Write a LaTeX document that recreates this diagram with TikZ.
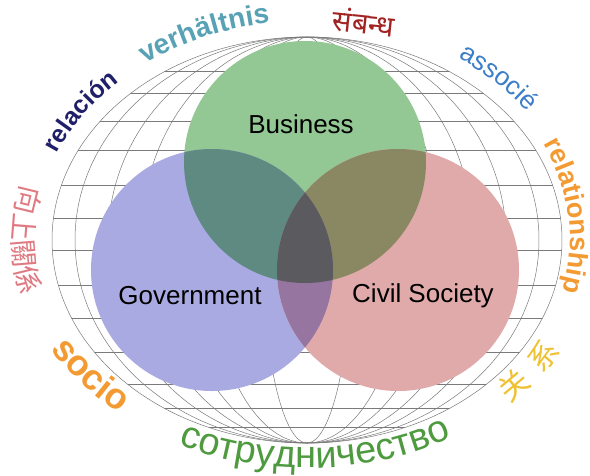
\documentclass[tikz,border=0pt]{standalone}
\usepackage{fontspec}
\setmainfont{Liberation Sans}
\newfontfamily\devafont[Script=Devanagari]{Noto Sans}
\newfontfamily\tcfont{Noto Sans CJK TC}
\newfontfamily\scfont{Noto Sans CJK SC}
\usetikzlibrary{decorations.text}
\definecolor{bizgreen}{HTML}{93C793}
\definecolor{govblue}{HTML}{AAAAE2}
\definecolor{civpink}{HTML}{E0AAAA}
\definecolor{bizgov}{HTML}{5F8A82}
\definecolor{bizciv}{HTML}{898862}
\definecolor{govciv}{HTML}{9675A0}
\definecolor{allthree}{HTML}{5B5A5E}
\definecolor{gridgray}{HTML}{7A7A7A}
\definecolor{navyword}{HTML}{20206A}
\definecolor{tealword}{HTML}{58A2B6}
\definecolor{hindired}{HTML}{A32222}
\definecolor{frblue}{HTML}{3A7DC8}
\definecolor{orangeword}{HTML}{F39A32}
\definecolor{zhyellow}{HTML}{EEC232}
\definecolor{zhpink}{HTML}{E07A82}
\definecolor{rugreen}{HTML}{4E9A3E}
\tikzset{
  gridline/.style={draw=gridgray, line width=0.5pt},
  circlabel/.style={font=\fontsize{26}{30}\selectfont, text=black, inner sep=0pt},
  ringword/.style={decorate, decoration={text along path, text align=center, text={#1}}},
}

\begin{document}
\begin{tikzpicture}[x=1pt, y=1pt]
  \path[use as bounding box, fill=white] (0,0) rectangle (590,-475);
  \coordinate (globe) at (307,-240);
  \coordinate (bizc) at (305,-162);
  \coordinate (govc) at (212,-270);
  \coordinate (civc) at (398,-270);
  % globe grid
  \begin{scope}
    \clip (globe) ellipse[x radius=255, y radius=203];
    \foreach \yy in {71,93,121,150,185,218,250,285,318,352,384,408,427}
      \draw[gridline] (45,-\yy) -- (570,-\yy);
  \end{scope}
  \foreach \rx in {255,232,199,166,133,100,45}
    \draw[gridline] (globe) ellipse[x radius=\rx, y radius=203];
  % three circles
  \fill[bizgreen] (bizc) circle[radius=121];
  \fill[govblue] (govc) circle[radius=121];
  \fill[civpink] (civc) circle[radius=121];
  \begin{scope}
    \clip (bizc) circle[radius=121];
    \fill[bizgov] (govc) circle[radius=121];
    \fill[bizciv] (civc) circle[radius=121];
  \end{scope}
  \begin{scope}
    \clip (govc) circle[radius=121];
    \fill[govciv] (civc) circle[radius=121];
    \clip (bizc) circle[radius=121];
    \fill[allthree] (civc) circle[radius=121];
  \end{scope}
  \node[circlabel] (bizlabel) at (301,-124) {Business};
  \node[circlabel] (govlabel) at (190,-296) {Government};
  \node[circlabel] (civlabel) at (423,-296) {Civil Society};
  % words round the globe
  \path[ringword={|\bfseries\fontsize{25}{25}\selectfont\color{navyword}|relación}]
    (globe) ++(170:272 and 219) arc[start angle=170, end angle=122, x radius=272, y radius=219];
  \path[ringword={|\bfseries\fontsize{28}{28}\selectfont\color{tealword}|verhältnis}]
    (globe) ++(145:272 and 219) arc[start angle=145, end angle=81, x radius=272, y radius=219];
  \node[font=\devafont\fontsize{29}{32}\selectfont, text=hindired, rotate=-6] (hindiword) at (364,-22) {संबन्ध};
  \path[ringword={|\fontsize{26}{26}\selectfont\color{frblue}|associé}]
    (globe) ++(71:272 and 219) arc[start angle=71, end angle=19, x radius=272, y radius=219];
  \path[ringword={|\bfseries\fontsize{27}{27}\selectfont\color{orangeword}|relationship}]
    (globe) ++(42:263 and 219) arc[start angle=42, end angle=-30, x radius=263, y radius=219];
  \path[ringword={|\tcfont\fontsize{28}{28}\selectfont\color{zhpink}|向上關係}]
    (globe) ++(150:294 and 226) arc[start angle=150, end angle=210, x radius=294, y radius=226];
  \path[ringword={|\bfseries\fontsize{36}{36}\selectfont\color{orangeword}|socio}]
    (globe) ++(190:292 and 226) arc[start angle=190, end angle=246, x radius=292, y radius=226];
  \path[ringword={|\fontsize{38}{38}\selectfont\color{rugreen}|сотрудничество}]
    (globe) ++(227:292 and 228) arc[start angle=227, end angle=317, x radius=292, y radius=228];
  \path[ringword={|\scfont\fontsize{30}{30}\selectfont\color{zhyellow}|关{\hspace{14pt}}系}]
    (globe) ++(303:292 and 226) arc[start angle=303, end angle=343, x radius=292, y radius=226];
\end{tikzpicture}
\end{document}
